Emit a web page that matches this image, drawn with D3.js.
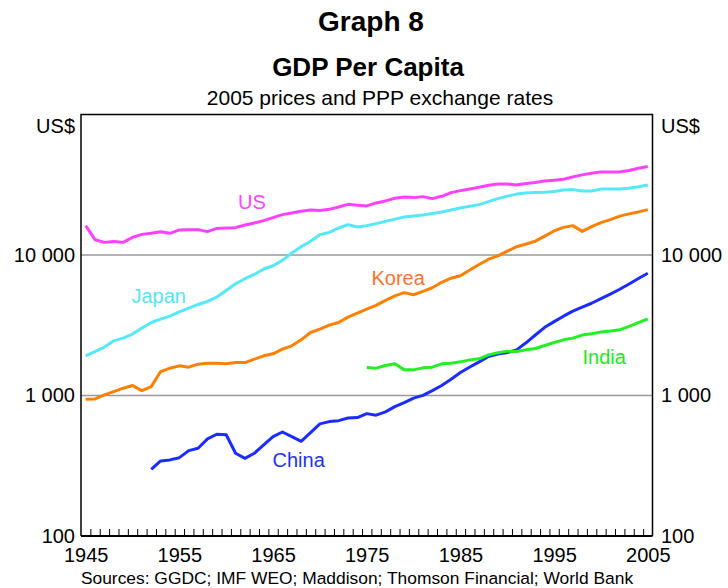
<!DOCTYPE html>
<html>
<head>
<meta charset="utf-8">
<script src="https://cdn.jsdelivr.net/npm/d3@7"></script>
<style>
  body { margin: 0; background: #fff; }
  svg text { font-family: "Liberation Sans", Arial, sans-serif; }
</style>
</head>
<body>
<div id="chart"></div>
<script>
// GDP per capita, US$ (2005 prices, PPP)
var years = d3.range(1945, 2006);

var usStart = 1945;
var usValues = [16180,12850,12300,12500,12300,13350,14020,14260,14660,14260,
  15080,15150,15150,14660,15470,15570,15650,16360,16910,17560,
  18450,19380,19930,20460,20930,20700,21130,21980,22940,22570,
  22350,23470,24260,25320,25910,25610,26030,25200,26160,27800,
  28730,29540,30320,31340,32070,32070,31540,32230,32760,33690,
  34020,34590,35970,37170,38160,39050,39050,39050,39900,41430,
  42600];

var japanStart = 1945;
var japanValues = [1916,2056,2210,2450,2561,2735,3018,3308,3498,3675,
  3944,4191,4446,4670,5020,5593,6243,6778,7271,7947,
  8390,9152,10330,11460,12540,13950,14490,15570,16440,15830,
  16180,16720,17360,18000,18660,18970,19280,19760,20260,20930,
  21630,22240,22830,23980,25200,26250,27130,27670,27900,27940,
  28360,29060,29200,28590,28590,29440,29540,29540,29830,30570,
  31540];

var koreaStart = 1945;
var koreaValues = [941,946,1010,1066,1127,1177,1084,1157,1480,1565,
  1626,1591,1672,1699,1699,1680,1716,1716,1814,1916,
  1980,2138,2257,2490,2808,2970,3171,3308,3615,3861,
  4123,4380,4755,5119,5395,5212,5511,5846,6390,6833,
  7120,7818,8557,9336,9854,10645,11460,11980,12540,13610,
  14830,15730,16180,14730,15910,16990,17850,18910,19630,20260,
  21030];

var chinaStart = 1952;
var chinaValues = [298,342,348,361,405,421,491,530,526,388,
  357,388,445,509,550,509,472,544,628,652,
  662,692,696,743,724,764,834,890,957,1002,
  1084,1178,1307,1458,1596,1736,1897,1976,2022,2113,
  2371,2695,3058,3357,3669,3990,4254,4535,4889,5272,
  5705,6223,6800,7420];

var indiaStart = 1975;
var indiaValues = [1581,1565,1634,1680,1522,1522,1573,1591,1680,1699,
  1736,1793,1823,1947,2012,2069,2056,2113,2159,2268,
  2383,2490,2561,2691,2749,2827,2873,2935,3103,3298,
  3516];

var gridValues = [1000, 10000];
var tickLabelsY = [100, 1000, 10000];
var tickLabelsX = [1945, 1955, 1965, 1975, 1985, 1995, 2005];

var series = [
  {name: "US", start: usStart, values: usValues, color: "#ff40ff", label: [238, 208.5], labelColor: "#ff44ff"},
  {name: "Japan", start: japanStart, values: japanValues, color: "#55e8f8", label: [131.5, 303], labelColor: "#55e4f4"},
  {name: "Korea", start: koreaStart, values: koreaValues, color: "#ff8000", label: [371.5, 285], labelColor: "#ff7030"},
  {name: "China", start: chinaStart, values: chinaValues, color: "#1a2cff", label: [272.5, 467], labelColor: "#2233f0"},
  {name: "India", start: indiaStart, values: indiaValues, color: "#22f022", label: [582.5, 364], labelColor: "#22e822"}
];

function draw_chart()
{
    var width = 728, height = 588;
    var plotLeft = 81, plotRight = 652.5, plotTop = 114.5, plotBottom = 536;
    var fontFamily = "'Liberation Sans', Arial, sans-serif";

    var svg = d3.select("#chart").append("svg")
        .attr("width", width)
        .attr("height", height);

    var x = d3.scaleLinear().domain([1944.5, 2005.5]).range([plotLeft, plotRight]);
    var y = d3.scaleLog().domain([100, 100000]).range([plotBottom, plotTop]);

    var fmt = d3.formatLocale({decimal: ".", thousands: " ", grouping: [3], currency: ["", ""]}).format(",");

    // titles
    svg.append("text").attr("x", 371).attr("y", 31).attr("text-anchor", "middle")
        .style("font-size", "28px").style("font-weight", "bold").text("Graph 8");
    svg.append("text").attr("x", 368).attr("y", 76).attr("text-anchor", "middle")
        .style("font-size", "26px").style("font-weight", "bold").text("GDP Per Capita");
    svg.append("text").attr("x", 380).attr("y", 105).attr("text-anchor", "middle")
        .style("font-size", "21px").text("2005 prices and PPP exchange rates");

    // gridlines
    svg.append("g").selectAll("line").data(gridValues).enter().append("line")
        .attr("x1", plotLeft).attr("x2", plotRight)
        .attr("y1", function(d) { return y(d); })
        .attr("y2", function(d) { return y(d); })
        .attr("stroke", "#999").attr("stroke-width", 1.6);

    // year ticks sit on the boundaries between years and point up
    var tickAxis = d3.axisBottom(x)
        .tickValues(years.slice(1).map(function(d) { return d - 0.5; }))
        .tickSize(-7).tickFormat("");
    var gt = svg.append("g").attr("transform", "translate(0," + plotBottom + ")").call(tickAxis);
    gt.select(".domain").remove();
    gt.selectAll("line").attr("stroke", "#000");

    var xAxis = d3.axisBottom(x).tickValues(tickLabelsX).tickSize(0).tickPadding(11.5).tickFormat(d3.format("d"));
    var gx = svg.append("g").attr("transform", "translate(0," + plotBottom + ")").call(xAxis);
    gx.select(".domain").remove();

    var yLeft = d3.axisLeft(y).tickValues(tickLabelsY).tickSize(0).tickPadding(6).tickFormat(fmt);
    var gl = svg.append("g").attr("transform", "translate(" + plotLeft + ",0)").call(yLeft);
    gl.select(".domain").remove();

    var yRight = d3.axisRight(y).tickValues(tickLabelsY).tickSize(0).tickPadding(8.5).tickFormat(fmt);
    var gr = svg.append("g").attr("transform", "translate(" + plotRight + ",0)").call(yRight);
    gr.select(".domain").remove();

    [gx, gl, gr].forEach(function(g) {
        g.selectAll("text").style("font-size", "20px").attr("fill", "#000")
            .style("font-family", fontFamily);
    });

    svg.append("text").attr("x", 75).attr("y", 132.5).attr("text-anchor", "end")
        .style("font-size", "20px").text("US$");
    svg.append("text").attr("x", 661).attr("y", 132.5)
        .style("font-size", "20px").text("US$");

    // lines
    var line = d3.line()
        .x(function(d) { return x(d[0]); })
        .y(function(d) { return y(d[1]); });

    series.forEach(function(s) {
        var pts = s.values.map(function(v, i) { return [s.start + i, v]; });
        svg.append("path")
            .datum(pts)
            .attr("d", line)
            .attr("fill", "none")
            .attr("stroke", s.color)
            .attr("stroke-width", 3)
            .attr("stroke-linejoin", "round");
        svg.append("text")
            .attr("x", s.label[0]).attr("y", s.label[1])
            .style("font-size", "20px")
            .attr("fill", s.labelColor)
            .text(s.name);
    });

    // frame
    svg.append("path")
        .attr("d", "M" + plotLeft + "," + plotBottom + "V" + plotTop + "H" + plotRight + "V" + plotBottom)
        .attr("fill", "none").attr("stroke", "#000").attr("stroke-width", 1.5);
    svg.append("line")
        .attr("x1", plotLeft).attr("x2", plotRight).attr("y1", plotBottom).attr("y2", plotBottom)
        .attr("stroke", "#000").attr("stroke-width", 2);

    svg.append("text").attr("x", 357).attr("y", 584).attr("text-anchor", "middle")
        .style("font-size", "17.4px")
        .text("Sources: GGDC; IMF WEO; Maddison; Thomson Financial; World Bank");
}

draw_chart();
</script>
</body>
</html>
